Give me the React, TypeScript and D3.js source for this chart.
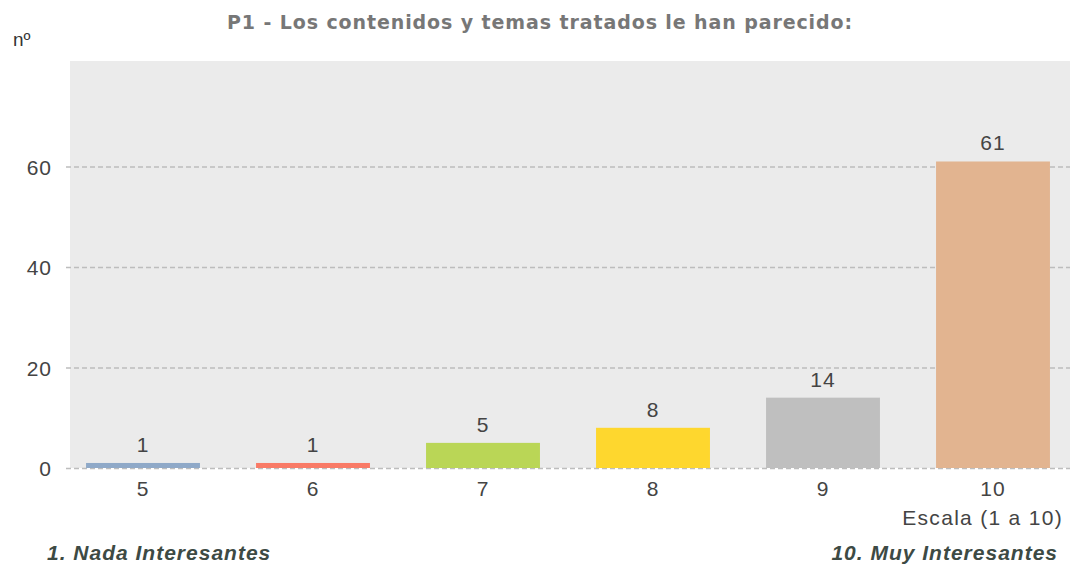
import React, { useEffect, useRef } from 'react';
import * as d3 from 'd3';

const categories = ['5', '6', '7', '8', '9', '10'];
const counts = [1, 1, 5, 8, 14, 61];
const barColors = ['#8fa9c8', '#f97a66', '#bad656', '#fed72e', '#bfbfbf', '#e2b490'];
const yTicks = [0, 20, 40, 60];

const App: React.FC = () => {
  const svgRef = useRef<SVGSVGElement>(null);

  useEffect(() => {
    if (!svgRef.current) return;
    const svg = d3.select(svgRef.current);
    svg.selectAll('*').remove();

    const width = 1070;
    const height = 564;
    const plotLeft = 70;
    const plotRight = 1070;
    const plotTop = 61;
    const baseY = 468;
    const numFont = '"Liberation Sans", Arial, sans-serif';

    svg.attr('width', width).attr('height', height);

    const y = d3.scaleLinear().domain([0, 81]).range([baseY, plotTop]);
    const x = d3.scaleBand<string>().domain(categories).range([58, 1078]).paddingInner(0.33).paddingOuter(0.165);

    // plot background
    svg.append('rect')
      .attr('x', plotLeft).attr('y', plotTop)
      .attr('width', plotRight - plotLeft).attr('height', baseY - plotTop)
      .attr('fill', '#ebebeb');

    // grid lines
    svg.selectAll('line.grid')
      .data(yTicks)
      .enter()
      .append('line')
      .attr('class', 'grid')
      .attr('x1', 66).attr('x2', plotRight)
      .attr('y1', d => y(d) + 0.5).attr('y2', d => y(d) + 0.5)
      .attr('stroke', '#bdbdbd')
      .attr('stroke-width', 1.3)
      .attr('stroke-dasharray', '5,3');

    // y tick labels
    svg.selectAll('text.ytick')
      .data(yTicks)
      .enter()
      .append('text')
      .attr('class', 'ytick')
      .attr('x', 52).attr('y', d => y(d) + 8)
      .attr('text-anchor', 'end')
      .style('font-family', numFont)
      .style('font-size', '21px')
      .style('letter-spacing', '1px')
      .style('fill', '#444')
      .text(d => d);

    // bars
    svg.selectAll('rect.bar')
      .data(counts)
      .enter()
      .append('rect')
      .attr('class', 'bar')
      .attr('x', (_, i) => x(categories[i])!)
      .attr('width', x.bandwidth())
      .attr('y', d => y(d))
      .attr('height', d => baseY - y(d))
      .attr('fill', (_, i) => barColors[i]);

    // value labels
    svg.selectAll('text.val')
      .data(counts)
      .enter()
      .append('text')
      .attr('class', 'val')
      .attr('x', (_, i) => x(categories[i])! + x.bandwidth() / 2)
      .attr('y', d => y(d) - 11)
      .attr('text-anchor', 'middle')
      .style('font-family', numFont)
      .style('font-size', '21px')
      .style('letter-spacing', '1px')
      .style('fill', '#444')
      .text(d => d);

    // x tick labels
    svg.selectAll('text.xtick')
      .data(categories)
      .enter()
      .append('text')
      .attr('class', 'xtick')
      .attr('x', d => x(d)! + x.bandwidth() / 2)
      .attr('y', 496)
      .attr('text-anchor', 'middle')
      .style('font-family', numFont)
      .style('font-size', '21px')
      .style('letter-spacing', '1px')
      .style('fill', '#444')
      .text(d => d);

    svg.append('text')
      .attr('x', 1063).attr('y', 525)
      .attr('text-anchor', 'end')
      .style('font-family', numFont)
      .style('font-size', '21px')
      .style('letter-spacing', '1.3px')
      .style('fill', '#444')
      .text('Escala (1 a 10)');

    // y axis title
    svg.append('text')
      .attr('x', 13).attr('y', 46)
      .style('font-family', numFont)
      .style('font-size', '19px')
      .style('fill', '#333')
      .text('nº');

    // chart title
    svg.append('text')
      .attr('x', 540).attr('y', 29)
      .attr('text-anchor', 'middle')
      .style('font-family', '"DejaVu Sans", sans-serif')
      .style('font-size', '19px')
      .style('font-weight', 'bold')
      .style('letter-spacing', '0.9px')
      .style('fill', '#777')
      .text('P1 - Los contenidos y temas tratados le han parecido:');

    // scale extremes
    svg.append('text')
      .attr('x', 47).attr('y', 560)
      .style('font-family', numFont)
      .style('font-size', '21px')
      .style('font-weight', 'bold')
      .style('font-style', 'italic')
      .style('letter-spacing', '1px')
      .style('fill', '#3d4a44')
      .text('1. Nada Interesantes');

    svg.append('text')
      .attr('x', 1058).attr('y', 560)
      .attr('text-anchor', 'end')
      .style('font-family', numFont)
      .style('font-size', '21px')
      .style('font-weight', 'bold')
      .style('font-style', 'italic')
      .style('letter-spacing', '1px')
      .style('fill', '#3d4a44')
      .text('10. Muy Interesantes');
  }, []);

  return (
    <svg ref={svgRef} style={{ position: 'absolute', left: 0, top: 0, display: 'block' }} />
  );
};

export default App;
